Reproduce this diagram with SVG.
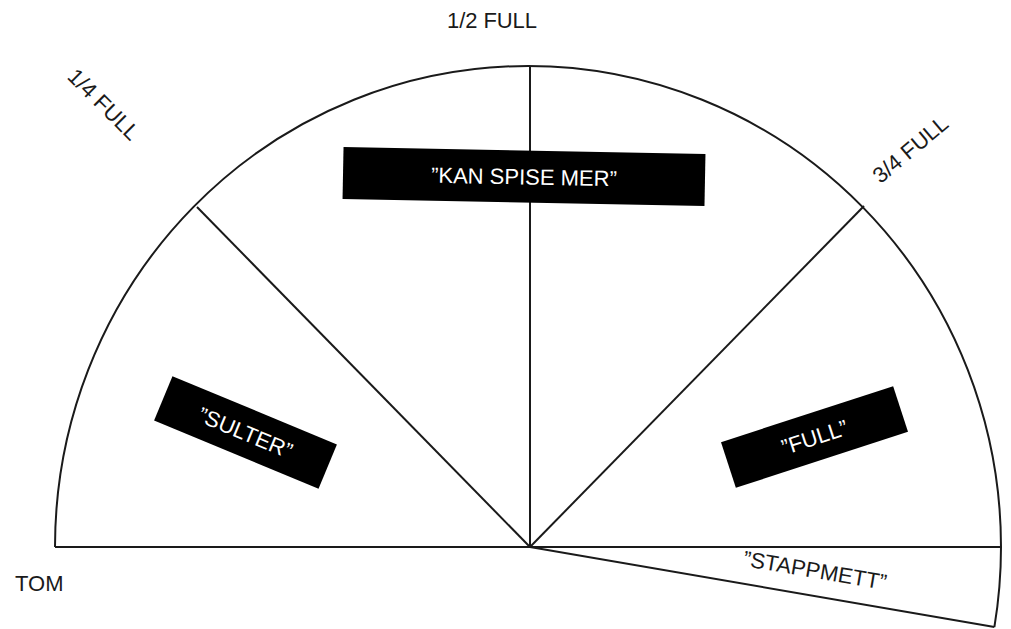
<svg xmlns="http://www.w3.org/2000/svg" width="1011" height="629" viewBox="0 0 1011 629">
<style>
.ln{fill:none;stroke:#1a1a1a;stroke-width:2}
.lbl{font-family:"Liberation Sans",Arial,sans-serif;font-size:22px;fill:#1a1a1a}
.box{fill:#000}
.bt{font-family:"Liberation Sans",Arial,sans-serif;font-size:22px;fill:#fff;text-anchor:middle}
</style>
<rect width="1011" height="629" fill="#fff"/>
<g id="connectors">
<path class="ln" d="M55,547 A473,481 0 0 1 1001,547 A473,481 0 0 1 994.4,627"/>
<line class="ln" x1="55" y1="547" x2="1001" y2="547"/>
<line class="ln" x1="530" y1="547" x2="530" y2="66"/>
<line class="ln" x1="530" y1="547" x2="197" y2="207"/>
<line class="ln" x1="530" y1="547" x2="864" y2="206"/>
<line class="ln" x1="530" y1="547" x2="994.4" y2="627"/>
</g>
<g id="label-half"><text class="lbl" x="447" y="28" textLength="90">1/2 FULL</text></g>
<g id="label-quarter"><text class="lbl" transform="translate(104,104) rotate(45)" text-anchor="middle" y="8">1/4 FULL</text></g>
<g id="label-threequarter"><text class="lbl" transform="translate(910,149) rotate(-40)" text-anchor="middle" y="8">3/4 FULL</text></g>
<g id="label-tom"><text class="lbl" x="15" y="591">TOM</text></g>
<g id="label-stappmett"><text class="lbl" transform="translate(815,570) rotate(9.7)" text-anchor="middle" y="8">”STAPPMETT”</text></g>
<g id="box-kan" transform="translate(524,176.5) rotate(1.1)">
<rect class="box" x="-181" y="-26" width="362" height="52"/>
<text class="bt" y="8">”KAN SPISE MER”</text>
</g>
<g id="box-sulter" transform="translate(245.5,432.5) rotate(22.5)">
<rect class="box" x="-89" y="-24" width="178" height="48"/>
<text class="bt" y="8">”SULTER”</text>
</g>
<g id="box-full" transform="translate(814.5,437) rotate(-18)">
<rect class="box" x="-90.5" y="-24" width="181" height="48"/>
<text class="bt" y="8">”FULL”</text>
</g>
</svg>
